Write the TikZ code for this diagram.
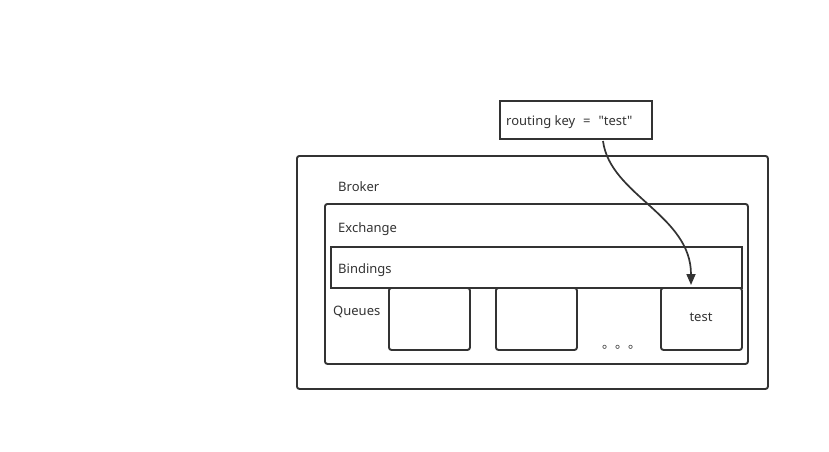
\documentclass[tikz,border=0pt]{standalone}
\usepackage{fontspec}
\setmainfont{Noto Sans}[Ligatures=TeXOff]
\newfontfamily\cjk{Noto Sans CJK SC}
\usetikzlibrary{arrows.meta}
\definecolor{ink}{HTML}{333333}
\tikzset{
  frame/.style={draw=ink, line width=1.9pt, rounded corners=2.5pt, anchor=north west, inner sep=0pt},
  sharpframe/.style={draw=ink, line width=1.9pt, anchor=north west, inner sep=0pt},
  lbl/.style={anchor=base west, inner sep=0pt, text=ink, font=\fontsize{13}{15}\selectfont},
  link/.style={draw=ink, line width=1.7pt, -{Triangle[length=11pt,width=9pt]}}
}
\begin{document}
\begin{tikzpicture}[x=1pt,y=-1pt]
\useasboundingbox (0,0) rectangle (829,451);
\node[frame, minimum width=471pt, minimum height=233pt] (broker) at (296,155) {};
\node[frame, minimum width=423pt, minimum height=160pt] (exchange) at (324,203) {};
\node[sharpframe, minimum width=411pt, minimum height=41pt] (bindings) at (330,246) {};
\node[frame, minimum width=81pt, minimum height=62pt] (q1) at (388,287) {};
\node[frame, minimum width=81pt, minimum height=62pt] (q2) at (495,287) {};
\node[frame, minimum width=81pt, minimum height=62pt] (q3) at (660,287) {};
\node[sharpframe, minimum width=152pt, minimum height=38pt] (rk) at (499,100) {};
\node[lbl] (tbroker) at (338,191) {Broker};
\node[lbl] (texchange) at (338,232) {Exchange};
\node[lbl] (tbindings) at (338,273) {Bindings};
\node[lbl] (tqueues) at (333,315) {Queues};
\node[lbl, anchor=base] (ttest) at (701,321) {test};
\node[lbl] (trk) at (506,125) {routing key\hspace{4.5pt} = \hspace{4.5pt}"test"};
\node[anchor=base west, inner sep=0pt, text=ink, font=\cjk\fontsize{13}{15}\selectfont] (dots) at (602,348) {。。。};
\coordinate (start) at (603,141);
\coordinate (tip) at (691,285);
\draw[link] (start) .. controls (610,195) and (691,215) .. (tip);
\end{tikzpicture}
\end{document}
